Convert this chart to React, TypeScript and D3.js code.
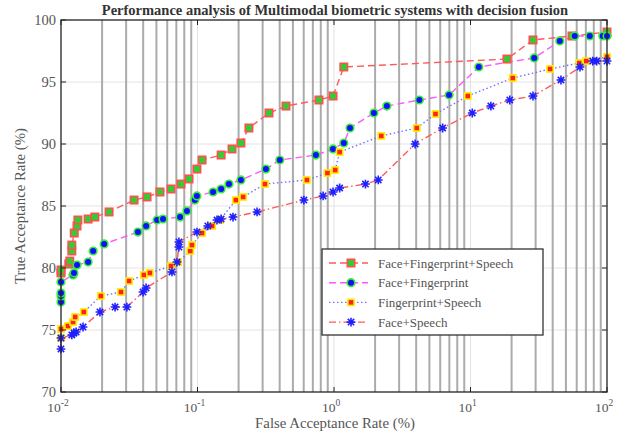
import React, { useEffect } from "react";
import * as d3 from "d3";

const W = 626;
const H = 437;

const xTicks = [0.01, 0.1, 1, 10, 100];
const xExp = ["-2", "-1", "0", "1", "2"];
const yTicks = [70, 75, 80, 85, 90, 95, 100];

const seriesNames = [
  "Face+Fingerprint+Speech",
  "Face+Fingerprint",
  "Fingerprint+Speech",
  "Face+Speech",
];

const s1Far = [0.01, 0.01, 0.0114, 0.0116, 0.012, 0.012, 0.0125, 0.0131, 0.0133, 0.0158, 0.0177, 0.0225, 0.0343, 0.0427, 0.0531, 0.064, 0.0757, 0.0867, 0.099, 0.108, 0.149, 0.179, 0.208, 0.238, 0.334, 0.445, 0.776, 0.984, 1.18, 18.5, 28.7, 55.4, 100];
const s1Tar = [79.6, 79.84, 80.32, 80.56, 81.37, 81.85, 82.82, 83.39, 83.87, 83.95, 84.11, 84.52, 85.48, 85.73, 86.13, 86.37, 86.77, 87.18, 87.98, 88.71, 89.11, 89.6, 90.08, 91.29, 92.5, 93.06, 93.55, 93.87, 96.21, 96.85, 98.39, 98.71, 99.03];

const s2Far = [0.01, 0.01, 0.01, 0.01, 0.01225, 0.01245, 0.0131, 0.0158, 0.0172, 0.0207, 0.0366, 0.042, 0.0506, 0.0559, 0.0745, 0.0837, 0.0956, 0.099, 0.13, 0.149, 0.17, 0.208, 0.317, 0.401, 0.736, 0.984, 1.18, 1.31, 1.96, 2.44, 4.22, 6.97, 11.5, 29.3, 45.1, 58, 74.8, 93.1, 100];
const s2Tar = [77.26, 77.74, 77.98, 78.87, 79.44, 79.6, 80.24, 80.48, 81.37, 81.94, 82.9, 83.39, 83.87, 83.95, 84.11, 84.6, 85.48, 85.81, 86.13, 86.37, 86.77, 87.1, 87.98, 88.71, 89.11, 89.6, 90.08, 91.29, 92.5, 93.06, 93.55, 93.95, 96.21, 96.94, 98.31, 98.71, 98.71, 98.71, 98.71];

const s3Far = [0.01, 0.01, 0.01125, 0.01225, 0.0127, 0.0147, 0.0196, 0.0275, 0.0315, 0.0405, 0.0448, 0.064, 0.072, 0.0885, 0.091, 0.108, 0.128, 0.146, 0.191, 0.216, 0.312, 0.633, 0.895, 1.02, 1.1, 2.22, 4.04, 5.54, 9.55, 20.4, 38.3, 62.6, 70.5, 100];
const s3Tar = [74.35, 75.08, 75.32, 75.65, 76.05, 76.45, 77.74, 78.06, 78.95, 79.44, 79.6, 80.16, 80.48, 81.37, 81.85, 82.82, 83.39, 83.87, 85.48, 85.73, 86.77, 87.1, 87.66, 87.9, 89.35, 90.65, 91.29, 92.42, 93.87, 95.32, 96.05, 96.53, 96.69, 97.02];

const s4Far = [0.01, 0.01, 0.012, 0.01245, 0.0129, 0.0145, 0.0193, 0.0249, 0.0304, 0.0399, 0.042, 0.065, 0.0707, 0.0731, 0.0731, 0.0991, 0.119, 0.139, 0.149, 0.182, 0.273, 0.602, 0.832, 0.984, 1.1, 1.7, 2.11, 3.93, 6.25, 10.3, 14.1, 19.4, 28.7, 46, 63.4, 78.6, 84.1, 100];
const s4Tar = [73.47, 74.35, 74.6, 74.76, 74.84, 75.24, 76.45, 76.85, 76.85, 78.06, 78.39, 79.68, 80.48, 81.69, 82.1, 82.9, 83.39, 83.87, 83.95, 84.11, 84.52, 85.48, 85.81, 86.13, 86.45, 86.77, 87.1, 90.0, 91.29, 92.5, 93.06, 93.55, 93.87, 95.16, 96.21, 96.69, 96.69, 96.69];

const L = 61, R = 607, T = 20, B = 392;
const x = d3.scaleLog().domain([0.01, 100]).range([L, R]);
const y = d3.scaleLinear().domain([70, 100]).range([B, T]);

const minorTicks: number[] = [];
[0.01, 0.1, 1, 10].forEach((d) => {
  for (let k = 2; k <= 9; k++) minorTicks.push(d * k);
});

type Style = {
  stroke: string;
  dash: string;
  marker: "sq" | "circ" | "sqs" | "star";
};
const styles: Style[] = [
  { stroke: "#ff5a5a", dash: "7,4", marker: "sq" },
  { stroke: "#ff55ff", dash: "7,4", marker: "circ" },
  { stroke: "#7070ff", dash: "1.5,2.5", marker: "sqs" },
  { stroke: "#ff5a5a", dash: "7,3,1.5,3", marker: "star" },
];

const serif = "'Liberation Serif', 'DejaVu Serif', serif";

function Marker({ kind, cx, cy }: { kind: Style["marker"]; cx: number; cy: number }) {
  if (kind === "sq")
    return <rect x={cx - 3.7} y={cy - 3.7} width={7.4} height={7.4} fill="#33cc33" stroke="#ff5050" strokeWidth={1.6} />;
  if (kind === "circ")
    return <circle cx={cx} cy={cy} r={3.8} fill="#1010ff" stroke="#33ee33" strokeWidth={1.6} />;
  if (kind === "sqs")
    return <rect x={cx - 3.1} y={cy - 3.1} width={6.2} height={6.2} fill="#ff2020" stroke="#ffee00" strokeWidth={1.6} />;
  const r = 4.4;
  const d = r * 0.72;
  return (
    <path
      d={`M${cx - r},${cy}L${cx + r},${cy}M${cx},${cy - r}L${cx},${cy + r}M${cx - d},${cy - d}L${cx + d},${cy + d}M${cx - d},${cy + d}L${cx + d},${cy - d}`}
      stroke="#2020ff"
      strokeWidth={1.6}
      fill="none"
    />
  );
}

export default function App() {
  useEffect(() => {
    document.body.style.margin = "0";
  }, []);
  const series = [
    { far: s1Far, tar: s1Tar },
    { far: s2Far, tar: s2Tar },
    { far: s3Far, tar: s3Tar },
    { far: s4Far, tar: s4Tar },
  ];
  const mk = (far: number[], tar: number[]) =>
    d3
      .line<number>()
      .x((_, i) => x(far[i]))
      .y((_, i) => y(tar[i]))(far) as string;

  const legX = 322, legY = 249, legW = 221, legH = 86;
  return (
    <svg width={W} height={H} style={{ position: "absolute", left: 0, top: 0, background: "#fff" }} fontFamily={serif}>
      <rect width={W} height={H} fill="#fff" />
      {yTicks.slice(1, -1).map((t) => (
        <line key={"hg" + t} x1={L} x2={R} y1={y(t)} y2={y(t)} stroke="#e4e4e4" strokeWidth={1} />
      ))}
      {xTicks.slice(1, -1).map((t) => (
        <line key={"vg" + t} x1={x(t)} x2={x(t)} y1={T} y2={B} stroke="#e2e2e2" strokeWidth={1} />
      ))}
      {minorTicks.map((t) => (
        <line key={"mg" + t} x1={x(t)} x2={x(t)} y1={T} y2={B} stroke="#ababab" strokeWidth={2} />
      ))}
      {series.map((s, i) => (
        <path key={"l" + i} d={mk(s.far, s.tar)} fill="none" stroke={styles[i].stroke} strokeWidth={1.4} strokeDasharray={styles[i].dash} />
      ))}
      {series.map((s, i) =>
        s.far.map((f, j) => <Marker key={"m" + i + "_" + j} kind={styles[i].marker} cx={x(f)} cy={y(s.tar[j])} />)
      )}
      <rect x={L} y={T} width={R - L} height={B - T} fill="none" stroke="#222" strokeWidth={1.3} />
      {yTicks.map((t) => (
        <g key={"yt" + t}>
          <line x1={L} x2={L + 5} y1={y(t)} y2={y(t)} stroke="#222" />
          <line x1={R} x2={R - 5} y1={y(t)} y2={y(t)} stroke="#222" />
          <text x={L - 5} y={y(t) + 5} textAnchor="end" fontSize={14.5} fill="#555">
            {t}
          </text>
        </g>
      ))}
      {xTicks.map((t, i) => (
        <g key={"xt" + t}>
          <line x1={x(t)} x2={x(t)} y1={B} y2={B - 5} stroke="#222" />
          <line x1={x(t)} x2={x(t)} y1={T} y2={T + 5} stroke="#222" />
          <text x={x(t) - 3} y={412} textAnchor="middle" fontSize={13.5} fill="#555">
            10
            <tspan dy={-6} fontSize={9.5}>
              {xExp[i]}
            </tspan>
          </text>
        </g>
      ))}
      <text x={335} y={428} textAnchor="middle" fontSize={14.8} fill="#555">
        False Acceptance Rate (%)
      </text>
      <text transform={`translate(25,${(T + B) / 2}) rotate(-90)`} textAnchor="middle" fontSize={14.8} fill="#555">
        True Acceptance Rate (%)
      </text>
      <text x={335} y={15} textAnchor="middle" fontSize={14.5} fontWeight="bold" fill="#333">
        Performance analysis of Multimodal biometric systems with decision fusion
      </text>
      <rect x={legX} y={legY} width={legW} height={legH} fill="#fff" stroke="#333" strokeWidth={1.3} />
      {seriesNames.map((n, i) => {
        const ly = 263 + i * 19.7;
        return (
          <g key={"lg" + i}>
            <line x1={329} x2={368} y1={ly} y2={ly} stroke={styles[i].stroke} strokeWidth={1.4} strokeDasharray={styles[i].dash} />
            <Marker kind={styles[i].marker} cx={351} cy={ly} />
            <text x={378} y={ly + 4.5} fontSize={13} fill="#555">
              {n}
            </text>
          </g>
        );
      })}
    </svg>
  );
}
